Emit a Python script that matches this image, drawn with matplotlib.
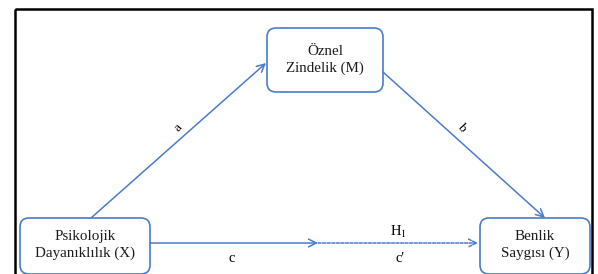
import matplotlib.pyplot as plt
from matplotlib.patches import FancyBboxPatch, Rectangle

# node labels and path labels
nodes = ["Öznel\nZindelik (M)", "Psikolojik\nDayanıklılık (X)", "Benlik\nSaygısı (Y)"]
paths = ["a", "b", "c", "c'", "H$_1$"]

# layout (pixels, y downward)
boxes = {0: (267, 28, 116, 64), 1: (20, 218, 130, 56), 2: (480, 218, 110, 56)}
blue = "#4a7cc9"

plt.rcParams['font.family'] = ['Liberation Serif', 'DejaVu Serif']
plt.rcParams['mathtext.fontset'] = 'stix'
fig = plt.figure(figsize=(5.98, 2.74), dpi=100)
ax = fig.add_axes([0, 0, 1, 1])
ax.set_xlim(0, 598)
ax.set_ylim(274, 0)
ax.axis('off')

# outer frame
ax.add_patch(Rectangle((15, 9), 577, 280, fill=False, ec='black', lw=1.8))

for i, lab in enumerate(nodes):
    x, y, w, h = boxes[i]
    ax.add_patch(FancyBboxPatch((x, y), w, h, boxstyle="round,pad=0,rounding_size=9",
                                fc='white', ec=blue, lw=1.2, zorder=3))
    ty = y + h / 2 if i == 0 else y + 27
    ax.text(x + w / 2, ty, lab, ha='center', va='center', fontsize=10.8,
            linespacing=1.25, color='#1a1a1a', zorder=4)

def arrow(p0, p1, ls='-'):
    ax.annotate("", xy=p1, xytext=p0,
                arrowprops=dict(arrowstyle='->', color=blue, lw=1.1, ls=ls,
                                shrinkA=0, shrinkB=0, mutation_scale=14))

arrow((91, 218), (266, 63))
arrow((383, 72), (545, 218))
arrow((150, 243), (318, 243))
arrow((318, 243), (478, 243), ls=(0, (2, 1)))

ax.text(178, 128, paths[0], ha='center', va='center', fontsize=9.5, rotation=48)
ax.text(461, 127, paths[1], ha='center', va='center', fontsize=9.5, rotation=-48)
ax.text(232, 259, paths[2], ha='center', va='center', fontsize=10.5)
ax.text(400, 259, paths[3], ha='center', va='center', fontsize=10.5)
ax.text(398, 232, paths[4], ha='center', va='center', fontsize=10.5)

fig.savefig("out.png", dpi=100)
